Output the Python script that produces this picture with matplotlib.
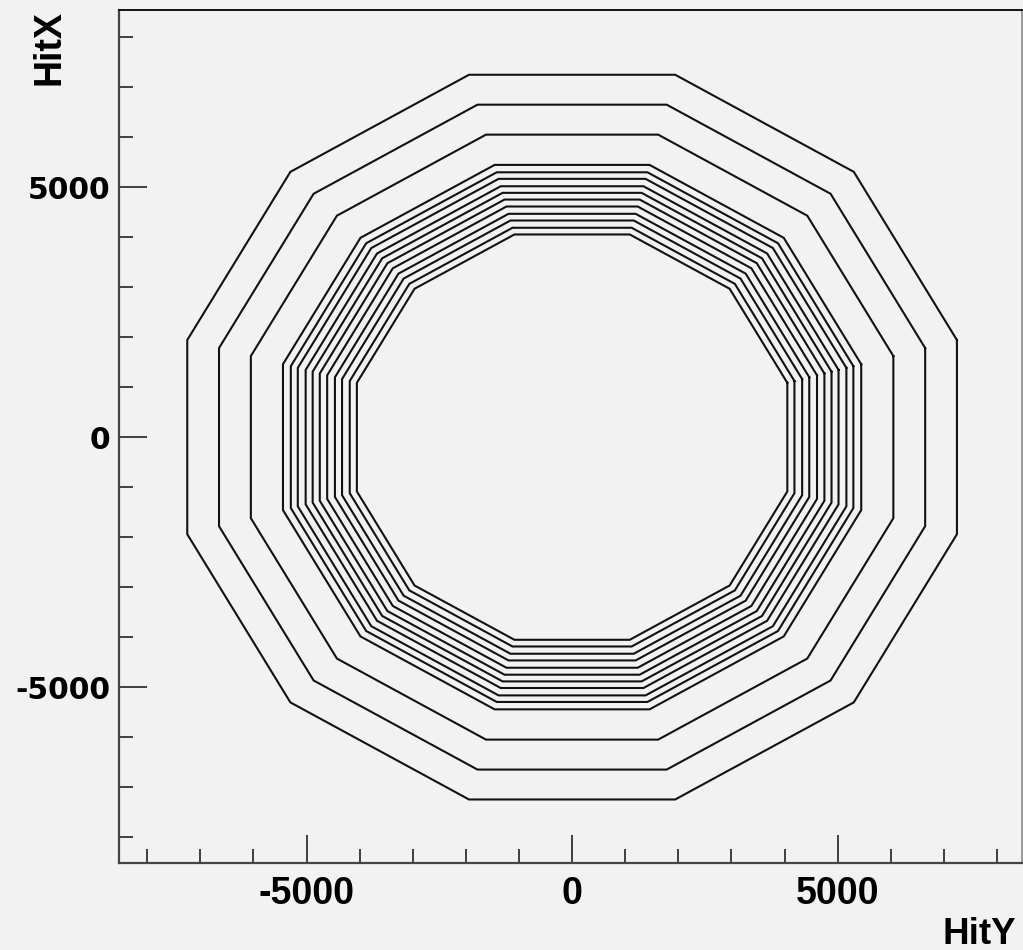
"""Hit map: dodecagonal detector layers, HitX vs HitY."""

import matplotlib
matplotlib.use("Agg")
import matplotlib.pyplot as plt
import numpy as np

# apothem (distance from centre to flat edge) of each layer
layer_apothems = [7245, 6647, 6048, 5443, 5295, 5164, 5016, 4884,
                  4750, 4611, 4465, 4331, 4186, 4052]
major_ticks = [-5000, 0, 5000]
minor_ticks = list(range(-8000, 8001, 1000))
x_title = "HitY"
y_title = "HitX"

BG = "#f2f2f2"

fig = plt.figure(figsize=(10.23, 9.5), dpi=100, facecolor=BG)
ax = fig.add_axes([119 / 1023, 87 / 950, (1022 - 119) / 1023, (863 - 10) / 950])
ax.set_facecolor(BG)

# flat edges face 0, 30, 60 ... deg, so vertices sit at 15, 45, 75 ... deg
ang = np.deg2rad(np.arange(15, 15 + 360 + 30, 30))
for a in layer_apothems:
    r = a / np.cos(np.deg2rad(15))
    ax.plot(r * np.cos(ang), r * np.sin(ang), color="#111111", lw=1.5,
            solid_joinstyle="miter")

ax.set_xlim(-8530, 8470)
ax.set_ylim(-8515, 8540)

ax.set_xticks(major_ticks)
ax.set_yticks(major_ticks)
ax.set_xticks(minor_ticks, minor=True)
ax.set_yticks(minor_ticks, minor=True)
ax.tick_params(which="major", direction="in", length=20, width=1.2, color="#222")
ax.tick_params(which="minor", direction="in", length=10, width=1.2, color="#222")
ax.tick_params(axis="x", which="major", pad=9)
ax.tick_params(axis="y", which="major", pad=6)
ax.set_xticklabels([str(t) for t in major_ticks], fontsize=27,
                   fontweight="bold", family="Liberation Sans")
ax.set_yticklabels([str(t) for t in major_ticks], fontsize=21.5,
                   fontweight="bold", family="DejaVu Sans")

for side in ["left", "bottom"]:
    ax.spines[side].set_linewidth(1.6)
    ax.spines[side].set_color("#444")
ax.spines["top"].set_linewidth(1.4)
ax.spines["top"].set_color("#111")
ax.spines["right"].set_linewidth(1.4)
ax.spines["right"].set_color("#999")

fig.text(49 / 1023, 1 - 10 / 950, y_title, rotation=90, ha="center", va="top",
         fontsize=27, fontweight="bold", family="Liberation Sans")
fig.text(1016 / 1023, 1 - 944 / 950, x_title, ha="right", va="baseline",
         fontsize=26.5, fontweight="bold", family="Liberation Sans")

fig.savefig("out.png", dpi=100, facecolor=BG)
